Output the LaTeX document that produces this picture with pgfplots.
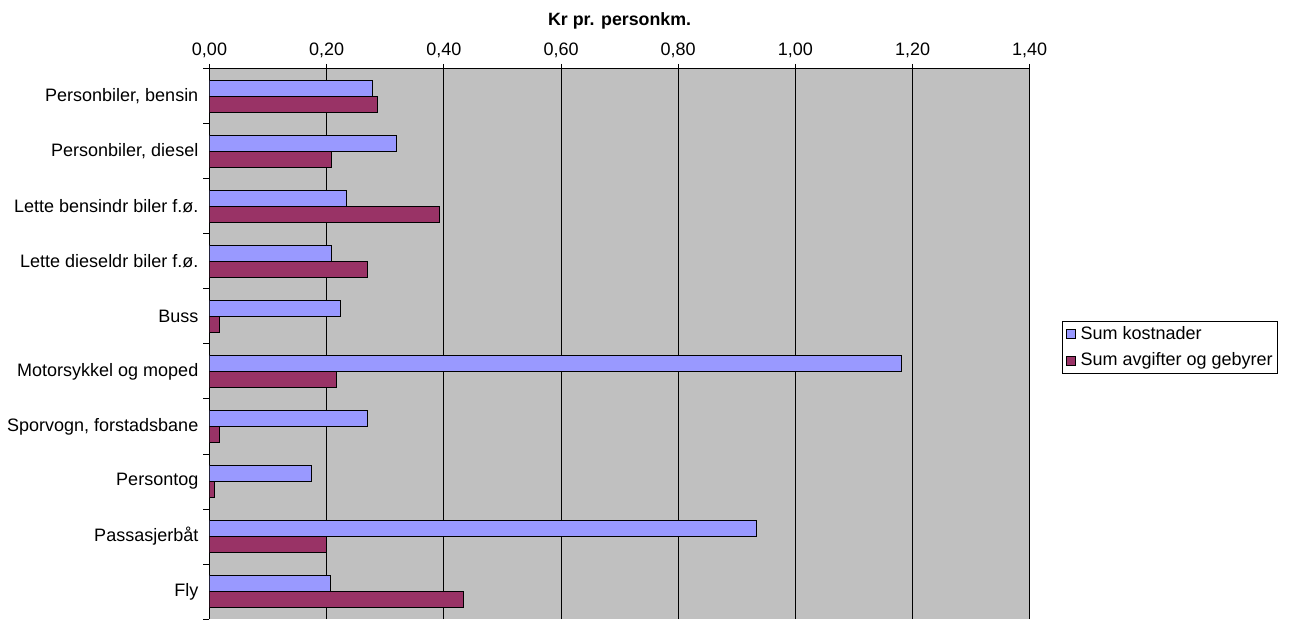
\documentclass[border=0pt]{standalone}
\usepackage{fontspec}
\setmainfont{Liberation Sans}
\usepackage{pgfplots}
\pgfplotsset{compat=1.18}
\definecolor{kost}{HTML}{9999FF}
\definecolor{avg}{HTML}{993366}
\definecolor{plotbg}{HTML}{C0C0C0}
\begin{document}
\fontsize{18}{20}\selectfont
\begin{tikzpicture}
\path[use as bounding box] (-209.5pt,0pt) rectangle (1079.5pt,619pt);
\begin{axis}[
    at={(0pt,0pt)}, anchor=south west,
    scale only axis, width=820.2pt, height=550pt,
    xbar, bar width=16pt,
    xmin=0, xmax=1.4,
    ymin=-0.5, ymax=9.5,
    axis x line*=top, axis y line*=left,
    axis line style={black, line width=1pt},
    axis background/.style={fill=plotbg},
    xtick={0,0.2,...,1.4},
    xticklabel pos=upper,
    xlabel={Kr pr. personkm.},
    xlabel style={font=\fontsize{17.8}{20}\selectfont\bfseries, yshift=2pt},
    xmajorgrids=true,
    grid style={black, line width=1pt},
    tick align=outside,
    major tick length=5pt,
    minor tick length=6pt,
    tick style={black, line width=1pt},
    every major y tick/.append style={draw=none},
    x tick label style={/pgf/number format/.cd, fixed, fixed zerofill, precision=2, use comma, assume math mode=true},
    ytick={0,...,9},
    minor ytick={-0.5,0.5,...,9.5},
    yticklabels={Fly,Passasjerbåt,Persontog,{Sporvogn, forstadsbane},{Motorsykkel og moped},Buss,{Lette dieseldr biler f.ø.},{Lette bensindr biler f.ø.},{Personbiler, diesel},{Personbiler, bensin}},
    ticklabel style={font=\fontsize{18}{20}\selectfont},
    legend style={at={(1.0395,0.5424)}, anchor=north west, draw=black, line width=1pt, fill=white,
        font=\fontsize{18}{20}\selectfont, inner xsep=3pt, inner ysep=3pt, row sep=7pt},
    legend cell align=left,
    legend image code/.code={\draw[#1, line width=1pt] (0pt,-4.5pt) rectangle (9pt,4.5pt); \path (12pt,0pt);},
]
\addplot[fill=kost, draw=black, line width=1pt, bar shift=8.2pt] coordinates {
    (0.279,9) (0.319,8) (0.233,7) (0.209,6) (0.223,5)
    (1.181,4) (0.270,3) (0.174,2) (0.933,1) (0.206,0)
};
\addlegendentry{Sum kostnader}
\addplot[fill=avg, draw=black, line width=1pt, bar shift=-8.2pt] coordinates {
    (0.286,9) (0.209,8) (0.393,7) (0.270,6) (0.017,5)
    (0.217,4) (0.017,3) (0.008,2) (0.199,1) (0.434,0)
};
\addlegendentry{Sum avgifter og gebyrer}
\end{axis}
\end{tikzpicture}
\end{document}
